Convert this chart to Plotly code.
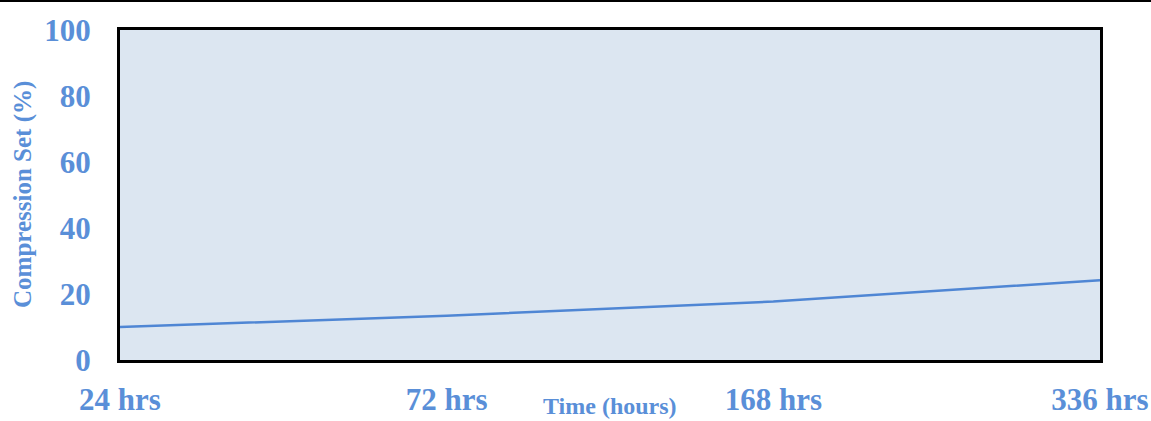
import plotly.graph_objects as go

categories = ["24 hrs", "72 hrs", "168 hrs", "336 hrs"]
compression_set = [10.0, 13.4, 17.7, 24.2]
y_ticks = [0, 20, 40, 60, 80, 100]

BLUE_TEXT = "#5a8fd8"
LINE_BLUE = "#4f86d4"
FONT = "Liberation Serif"

fig = go.Figure()
fig.add_trace(go.Scatter(
    x=categories, y=compression_set, mode="lines",
    line=dict(color=LINE_BLUE, width=2.5), showlegend=False,
))

L, R, T, B = 120, 51, 30, 61
W, H = 1151, 421
pw, ph = W - L - R, H - T - B

fig.update_layout(
    width=W, height=H,
    margin=dict(l=L, r=R, t=T, b=B, autoexpand=False),
    paper_bgcolor="white",
    plot_bgcolor="#dce6f1",
    xaxis=dict(
        type="category", range=[0, 3], showgrid=False, zeroline=False,
        automargin=False,
        showline=True, mirror=True, linecolor="black", linewidth=3,
        ticks="outside", ticklen=10, tickcolor="rgba(0,0,0,0)",
        tickfont=dict(family=FONT, size=31, color=BLUE_TEXT, weight="bold"),
    ),
    yaxis=dict(
        range=[0, 100], tickvals=y_ticks, showgrid=False, zeroline=False,
        automargin=False,
        showline=True, mirror=True, linecolor="black", linewidth=3,
        ticks="outside", ticklen=20, tickcolor="rgba(0,0,0,0)",
        tickfont=dict(family=FONT, size=31, color=BLUE_TEXT, weight="bold"),
    ),
    annotations=[
        dict(text="Time (hours)", xref="paper", yref="paper",
             x=0.5, y=-(406 - (T + ph)) / ph, xanchor="center", yanchor="middle",
             showarrow=False,
             font=dict(family=FONT, size=24, color=BLUE_TEXT, weight="bold")),
        dict(text="Compression Set (%)", xref="paper", yref="paper",
             x=(23 - L) / pw, y=0.5, xanchor="center", yanchor="middle",
             textangle=-90, showarrow=False,
             font=dict(family=FONT, size=25, color=BLUE_TEXT, weight="bold")),
    ],
    shapes=[
        dict(type="line", xref="paper", yref="paper",
             x0=-L / pw, x1=(W - L) / pw, y0=1 + (T - 1) / ph, y1=1 + (T - 1) / ph,
             line=dict(color="black", width=2)),
    ],
)

fig.write_html(
    "out.html",
    config={"displayModeBar": False},
    post_script="document.body.style.margin='0';document.body.style.overflow='hidden';",
)
